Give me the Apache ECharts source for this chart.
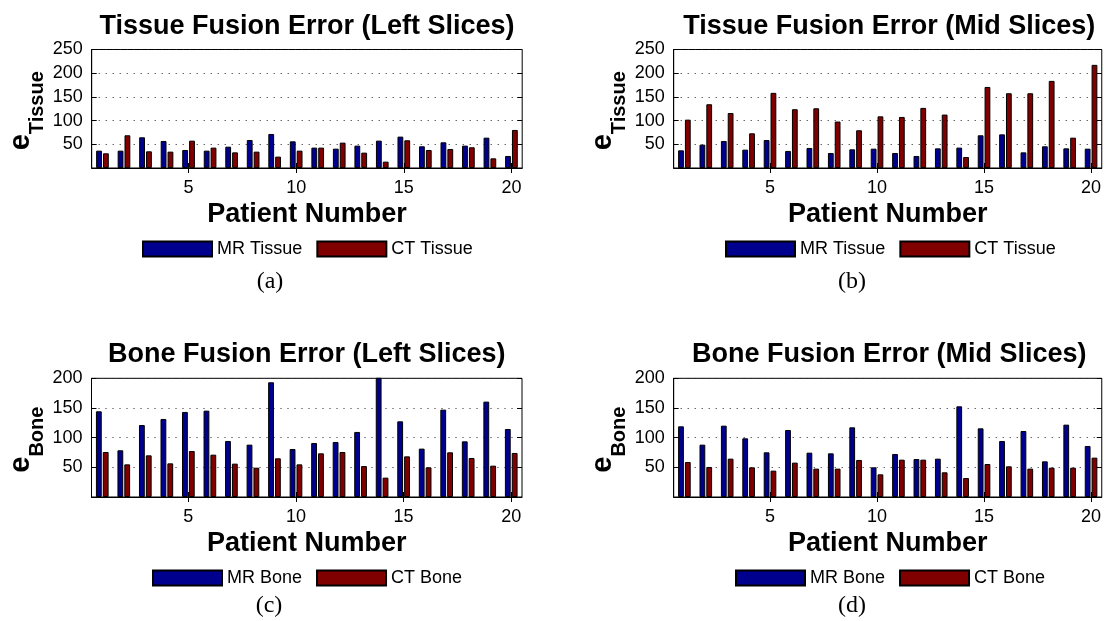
<!DOCTYPE html>
<html>
<head>
<meta charset="utf-8">
<script src="https://cdn.jsdelivr.net/npm/echarts@6/dist/echarts.min.js"></script>
<style>
html,body{margin:0;padding:0;background:#fff;}
#chart{width:1104px;height:621px;}
</style>
</head>
<body>
<div id="chart"></div>
<script>
// ---- data ----
const patients = ['1','2','3','4','5','6','7','8','9','10','11','12','13','14','15','16','17','18','19','20'];
const tissueLeftMR = [36.6, 36.6, 64.8, 57, 38, 36.6, 45, 59, 71.8, 56.3, 43, 40.8, 47.2, 57.7, 66.2, 45.8, 54.2, 47.2, 64, 25.4];
const tissueLeftCT = [31, 69, 35.2, 34.5, 57.7, 43, 33, 34.5, 24, 36.6, 43, 53.5, 32.4, 13.4, 58.5, 38, 40.1, 43.7, 20.4, 80.3];
const tissueMidMR = [37.3, 49.3, 57, 38.7, 59, 36, 42.3, 31.7, 39.4, 40.8, 31.7, 25.4, 41.5, 43, 69, 71, 33, 45.8, 41.5, 40.8];
const tissueMidCT = [102, 134.5, 116, 73.2, 158.5, 124, 126, 98, 79.6, 109, 107.7, 126.8, 112.7, 23.2, 171, 157.7, 157.7, 183.8, 64, 217.6];
const boneLeftMR = [144.4, 78.7, 121.3, 131.5, 143.3, 145.5, 94.4, 88.2, 193.3, 80.9, 91, 92.7, 109.6, 215, 127.5, 81.5, 147.2, 93.8, 160.7, 114.6];
const boneLeftCT = [75.8, 55, 70.2, 56.7, 77.5, 71.3, 56.2, 49.4, 65.2, 55, 73.6, 75.8, 52.2, 32.6, 68.5, 50, 75.3, 65.7, 52.8, 74.2];
const boneMidMR = [119.1, 88.2, 120.2, 98.9, 75.3, 112.9, 74.7, 73.6, 117.4, 50, 72.5, 64, 64.6, 152.8, 115.7, 94.4, 111.2, 60.1, 121.9, 86];
const boneMidCT = [59, 50.6, 64.6, 50, 44.4, 57.9, 47.8, 47.8, 62.4, 38.2, 62.9, 62.9, 41.6, 32, 55.6, 51.7, 47.8, 49.4, 49.4, 66.3];

const titles = ['Tissue Fusion Error (Left Slices)', 'Tissue Fusion Error (Mid Slices)', 'Bone Fusion Error (Left Slices)', 'Bone Fusion Error (Mid Slices)'];
const seriesNames = [['MR Tissue','CT Tissue'], ['MR Tissue','CT Tissue'], ['MR Bone','CT Bone'], ['MR Bone','CT Bone']];
const yLabelSubs = ['Tissue','Tissue','Bone','Bone'];
const yMaxes = [250, 250, 200, 200];
const captions = ['(a)','(b)','(c)','(d)'];
const xLabel = 'Patient Number';
const mrData = [tissueLeftMR, tissueMidMR, boneLeftMR, boneMidMR];
const ctData = [tissueLeftCT, tissueMidCT, boneLeftCT, boneMidCT];

// ---- layout ----
const SANS = 'Liberation Sans, Arial, Helvetica, sans-serif';
const SERIF = 'Liberation Serif, Times New Roman, serif';
const BLUE = '#00008F';
const RED = '#800000';
const layout = [
  {left: 91.7, top: 49.5, width: 430.5, height: 118.5, titleY: 27, legendLeft: 142, legendTop: 240, capX: 270, capY: 282},
  {left: 673.7, top: 49.5, width: 431, height: 118.5, titleY: 27, legendLeft: 725, legendTop: 240, capX: 852, capY: 282},
  {left: 91.5, top: 378.3, width: 430.5, height: 118.7, titleY: 355, legendLeft: 152, legendTop: 569, capX: 269, capY: 606},
  {left: 673.7, top: 378.3, width: 431, height: 118.7, titleY: 355, legendLeft: 735, legendTop: 569, capX: 852, capY: 606}
];

const tickEvery5 = function (index) { return (index + 1) % 5 === 0; };

const option = {
  animation: false,
  backgroundColor: '#fff',
  grid: [], xAxis: [], yAxis: [], series: [], legend: [], graphic: []
};

layout.forEach(function (L, p) {
  option.grid.push({
    left: L.left, top: L.top, width: L.width, height: L.height,
    show: true, borderColor: '#000', borderWidth: 1, backgroundColor: 'transparent'
  });
  // bottom x axis
  option.xAxis.push({
    type: 'category', gridIndex: p, data: patients, boundaryGap: true, position: 'bottom',
    axisLine: {show: true, lineStyle: {color: '#000', width: 1}},
    axisTick: {show: true, inside: true, length: 5, alignWithLabel: true, interval: tickEvery5, lineStyle: {color: '#000'}},
    axisLabel: {show: true, interval: tickEvery5, margin: 11, fontSize: 18, fontFamily: SANS, color: '#000'},
    splitLine: {show: false},
    name: xLabel, nameLocation: 'middle', nameGap: 33, nameMoveOverlap: false,
    nameTextStyle: {fontSize: 27, fontWeight: 'bold', fontFamily: SANS, color: '#000'}
  });
  // top x axis (ticks only)
  option.xAxis.push({
    type: 'category', gridIndex: p, data: patients, boundaryGap: true, position: 'top',
    axisLine: {show: false},
    axisTick: {show: true, inside: true, length: 5, alignWithLabel: true, interval: tickEvery5, lineStyle: {color: '#000'}},
    axisLabel: {show: false}, splitLine: {show: false}
  });
  // left y axis
  option.yAxis.push({
    type: 'value', gridIndex: p, min: 0, max: yMaxes[p], interval: 50, position: 'left',
    axisLine: {show: true, lineStyle: {color: '#000', width: 1}},
    axisTick: {show: true, inside: true, length: 5, lineStyle: {color: '#000'}},
    axisLabel: {show: true, showMinLabel: false, margin: 9, fontSize: 18, fontFamily: SANS, color: '#000'},
    splitLine: {show: true, lineStyle: {color: '#222', width: 1, type: [1, 6]}}
  });
  // right y axis (ticks only)
  option.yAxis.push({
    type: 'value', gridIndex: p, min: 0, max: yMaxes[p], interval: 50, position: 'right',
    axisLine: {show: false},
    axisTick: {show: true, inside: true, length: 5, lineStyle: {color: '#000'}},
    axisLabel: {show: false}, splitLine: {show: false}
  });
  const names = seriesNames[p];
  [[names[0], mrData[p], BLUE], [names[1], ctData[p], RED]].forEach(function (s) {
    option.series.push({
      type: 'bar', name: s[0], xAxisIndex: 2 * p, yAxisIndex: 2 * p, data: s[1],
      barWidth: '27%', barGap: '18%', clip: true,
      itemStyle: {color: s[2], borderColor: '#000', borderWidth: 1},
      emphasis: {disabled: true}
    });
  });
  option.legend.push({
    data: names, left: L.legendLeft, top: L.legendTop, padding: 0, orient: 'horizontal',
    icon: 'rect', itemWidth: 69, itemHeight: 15, itemGap: 14, selectedMode: false,
    textStyle: {fontSize: 18, fontFamily: SANS, color: '#000'}
  });
  // title
  option.graphic.push({
    type: 'text', x: L.left + L.width / 2, y: L.titleY, silent: true,
    style: {text: titles[p], fontSize: 27, fontWeight: 'bold', fontFamily: SANS, fill: '#000', align: 'center', verticalAlign: 'middle'}
  });
  // y label e_sub
  option.graphic.push({
    type: 'text', x: L.left - 64.7, y: L.top + L.height / 2 + 2, rotation: Math.PI / 2, silent: true,
    style: {
      text: '{e|e}{s|' + yLabelSubs[p] + '}', align: 'center', verticalAlign: 'middle', fill: '#000',
      rich: {
        e: {fontSize: 29, fontWeight: 'bold', fontFamily: SANS, fill: '#000', verticalAlign: 'top'},
        s: {fontSize: 20, fontWeight: 'bold', fontFamily: SANS, fill: '#000', verticalAlign: 'top', padding: [21, 0, 0, 0]}
      }
    }
  });
  // caption
  option.graphic.push({
    type: 'text', x: L.capX, y: L.capY, silent: true,
    style: {text: captions[p], fontSize: 24, fontFamily: SERIF, fill: '#000', align: 'center', verticalAlign: 'middle'}
  });
});

const chart = echarts.init(document.getElementById('chart'), null, {renderer: 'canvas'});
chart.setOption(option);
</script>
</body>
</html>
